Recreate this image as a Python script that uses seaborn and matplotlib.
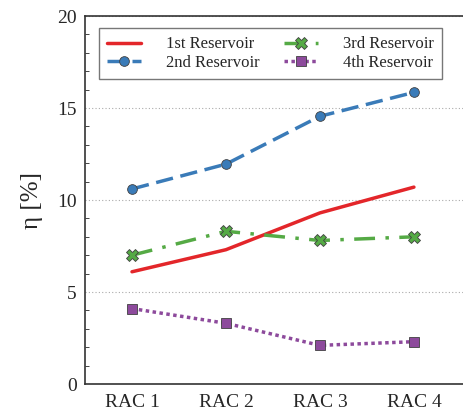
import pandas as pd
import matplotlib.pyplot as plt
import seaborn as sns
from matplotlib.ticker import MultipleLocator

# data
racs = ["RAC 1", "RAC 2", "RAC 3", "RAC 4"]
res1 = [6.1, 7.3, 9.3, 10.7]
res2 = [10.6, 11.95, 14.55, 15.85]
res3 = [7.0, 8.3, 7.8, 8.0]
res4 = [4.1, 3.3, 2.1, 2.3]
names = ["1st Reservoir", "2nd Reservoir", "3rd Reservoir", "4th Reservoir"]

sns.set_style("white")
plt.rcParams["font.family"] = ["Liberation Serif", "DejaVu Serif"]

fig = plt.figure(figsize=(4.63, 4.16), dpi=100)
ax = fig.add_axes([0.1836, 0.0769, 0.82, 0.8846])

pos = list(range(len(racs)))
styles = [
    dict(color="#e3262a", marker=None, linestyle="-"),
    dict(color="#3a7bb8", marker="o", linestyle=(0, (5, 2.2)), markersize=7),
    dict(color="#55aa45", marker="X", linestyle=(0, (6, 3, 1, 3)), markersize=8),
    dict(color="#8d4a9c", marker="s", linestyle=(0, (1, 1)), markersize=6.5),
]
for vals, name, st in zip([res1, res2, res3, res4], names, styles):
    df = pd.DataFrame({"x": pos, "y": vals})
    sns.lineplot(data=df, x="x", y="y", ax=ax, label=name, linewidth=2.5,
                 markeredgecolor="#404040", markeredgewidth=0.6, **st)

ax.set_xlim(-0.5, 3.54)
ax.set_ylim(0, 20)
ax.set_xticks(pos)
ax.set_xticklabels(racs)
ax.yaxis.set_major_locator(MultipleLocator(5))
ax.yaxis.set_minor_locator(MultipleLocator(1))
ax.tick_params(axis="y", which="major", direction="in", length=6, labelsize=14, pad=6)
ax.tick_params(axis="y", which="minor", direction="in", length=3, left=True)
ax.tick_params(axis="x", length=0, labelsize=14, pad=7)
ax.set_xlabel("")
ax.set_ylabel("η [%]", fontsize=18, labelpad=10)
ax.grid(axis="y", which="major", linestyle=(0, (1, 2)), color="#aaaaaa", linewidth=0.8)
for s in ax.spines.values():
    s.set_color("#333333")
    s.set_linewidth(1.2)
ax.spines["right"].set_visible(False)

leg = ax.legend(ncol=2, loc="upper left", fontsize=12, frameon=True,
                fancybox=False, edgecolor="#555555", handlelength=2.0,
                columnspacing=1.5, borderpad=0.5, labelspacing=0.15,
                handletextpad=1.5, bbox_to_anchor=(0.015, 0.99))
leg.get_frame().set_linewidth(1.0)

fig.savefig("out.png", dpi=100)
